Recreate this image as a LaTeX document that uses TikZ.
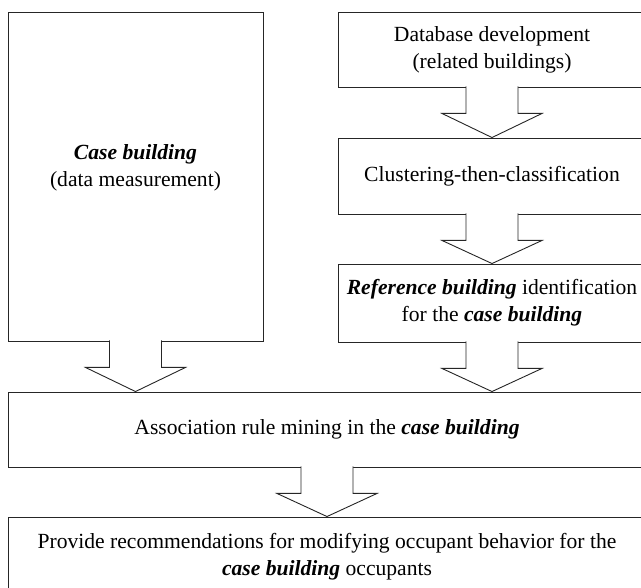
\documentclass[tikz,border=0pt]{standalone}
\usepackage{fontspec}
\setmainfont{Liberation Serif}
\usetikzlibrary{calc}

% hollow block arrow hanging under box #1, tip on top of box #2
\newcommand{\flowarrow}[2]{%
  \draw[blockarrow] ($(#1.south)+(-26,-1)$) -- ++(0,27) -- ++(-24,0)
    -- (#1.south |- #2.north) -- ($(#1.south)+(50,26)$) -- ++(-24,0) -- ++(0,-27);}

\begin{document}
\begin{tikzpicture}[x=1pt,y=-1pt,line join=miter,every node/.style={font=\fontsize{21.6}{27}\selectfont},
  box/.style={draw=black!85,line width=.9pt,rectangle,inner sep=0pt,align=center},
  blockarrow/.style={draw=black!85,line width=.9pt,fill=white}]
\clip (0,0) rectangle (641,588);
\node[box,minimum width=255pt,minimum height=329pt] (case) at (135.5,176.5) {\textbf{\textit{Case building}}\\(data measurement)\\[-5pt]};
\node[box,minimum width=308pt,minimum height=75pt] (dbase) at (492,49.5) {Database development\\(related buildings)};
\node[box,minimum width=308pt,minimum height=76pt] (cluster) at (492,176) {Clustering-then-classification};
\node[box,minimum width=308pt,minimum height=78pt] (refb) at (492,303) {\textbf{\textit{Reference building}} identification\\for the \textbf{\textit{case building}}};
\node[box,minimum width=638pt,minimum height=75pt] (assoc) at (327,429.5) {Association rule mining in the \textbf{\textit{case building}}};
\node[box,minimum width=638pt,minimum height=80pt] (recom) at (327,557) {Provide recommendations for modifying occupant behavior for the\\\textbf{\textit{case building}} occupants};
\flowarrow{dbase}{cluster}
\flowarrow{cluster}{refb}
\flowarrow{refb}{assoc}
\flowarrow{case}{assoc}
\flowarrow{assoc}{recom}
\end{tikzpicture}
\end{document}
